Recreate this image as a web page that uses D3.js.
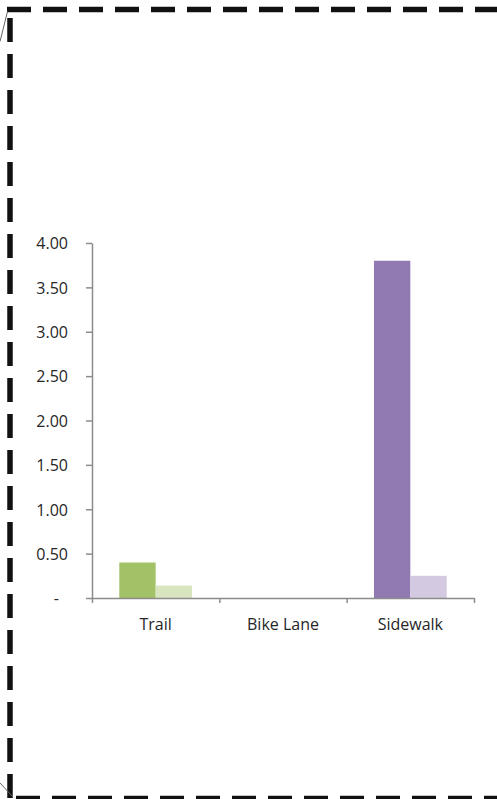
<!DOCTYPE html>
<html>
<head>
<meta charset="utf-8">
<script src="https://cdn.jsdelivr.net/npm/d3@7"></script>
<style>
  html, body { margin: 0; padding: 0; background: #fff; }
  svg { display: block; }
  text { font-family: "Open Sans", "Noto Sans", sans-serif; fill: #262626; }
</style>
</head>
<body>
<svg id="chart" width="497" height="799"></svg>
<script>
// ---- data ----
const categories = ["Trail", "Bike Lane", "Sidewalk"];
const seriesA = [0.40, 0.00, 3.80];
const seriesB = [0.14, 0.00, 0.25];
const yTickValues = [0, 0.5, 1, 1.5, 2, 2.5, 3, 3.5, 4];
const yTickLabels = ["-", "0.50", "1.00", "1.50", "2.00", "2.50", "3.00", "3.50", "4.00"];
const darkColors = ["#a3c166", "#4f81bd", "#917ab1"];
const lightColors = ["#d8e5bf", "#b9cde5", "#d3c9e1"];

const svg = d3.select("#chart");
const W = 497, H = 799;

// ---- dashed frame ----
const frame = svg.append("g");
const dash = "24,12";
frame.append("line").attr("x1", 7).attr("y1", 9.5).attr("x2", 510).attr("y2", 9.5)
  .attr("stroke", "#111").attr("stroke-width", 5.5).attr("stroke-dasharray", dash);
frame.append("line").attr("x1", 10).attr("y1", 18).attr("x2", 10).attr("y2", 810)
  .attr("stroke", "#111").attr("stroke-width", 5.5).attr("stroke-dasharray", dash);
frame.append("line").attr("x1", 16).attr("y1", 798.5).attr("x2", 510).attr("y2", 798.5)
  .attr("stroke", "#111").attr("stroke-width", 5.5).attr("stroke-dasharray", dash);
// small diagonal corner strokes
frame.append("line").attr("x1", 0).attr("y1", 41.5).attr("x2", 7.5).attr("y2", 11.5)
  .attr("stroke", "#666").attr("stroke-width", 1);
frame.append("line").attr("x1", 0).attr("y1", 783).attr("x2", 13).attr("y2", 797)
  .attr("stroke", "#666").attr("stroke-width", 1);

// ---- scales ----
const x0 = 92, x1 = 474, yTop = 243, yBot = 598;
const x = d3.scaleBand().domain(categories).range([x0, x1]).paddingInner(0).paddingOuter(0);
const xSub = d3.scaleBand().domain(["a", "b"]).range([0, x.bandwidth()])
  .paddingInner(0).paddingOuter(0.75);
const y = d3.scaleLinear().domain([0, 4]).range([yBot, yTop]);

// ---- bars ----
const bars = svg.append("g");
categories.forEach((c, i) => {
  bars.append("rect")
    .attr("x", x(c) + xSub("a")).attr("width", xSub.bandwidth())
    .attr("y", y(seriesA[i])).attr("height", y(0) - y(seriesA[i]))
    .attr("fill", darkColors[i]);
  bars.append("rect")
    .attr("x", x(c) + xSub("b")).attr("width", xSub.bandwidth())
    .attr("y", y(seriesB[i])).attr("height", y(0) - y(seriesB[i]))
    .attr("fill", lightColors[i]);
});

// ---- y axis ----
const yAxis = d3.axisLeft(y).tickValues(yTickValues)
  .tickFormat((d, i) => yTickLabels[i]).tickSize(6).tickSizeOuter(0).tickPadding(18);
const gy = svg.append("g").attr("transform", `translate(${x0},0)`).call(yAxis);
gy.select(".domain").attr("stroke", "#8c8c8c").attr("stroke-width", 1.5);
gy.selectAll(".tick line").attr("stroke", "#8c8c8c").attr("stroke-width", 1.5);
gy.selectAll(".tick text")
  .attr("font-size", "16px").attr("fill", "#262626")
  .attr("font-family", "'Open Sans', 'Noto Sans', sans-serif")
  .attr("dx", d => d === 0 ? -9 : 0)
  .attr("dy", "0.36em");

// ---- x axis ----
const xb = d3.scaleLinear().domain([0, categories.length]).range([x0, x1]);
const xAxis = d3.axisBottom(xb).tickValues(d3.range(categories.length + 1))
  .tickFormat("").tickSize(5).tickSizeOuter(0);
const gx = svg.append("g").attr("transform", `translate(0,${yBot})`).call(xAxis);
gx.select(".domain").attr("stroke", "#8c8c8c").attr("stroke-width", 1.5);
gx.selectAll(".tick line").attr("stroke", "#8c8c8c").attr("stroke-width", 1.5);

svg.append("g").selectAll("text").data(categories).join("text")
  .attr("x", d => x(d) + x.bandwidth() / 2)
  .attr("y", 630)
  .attr("text-anchor", "middle")
  .attr("font-size", "16px")
  .text(d => d);
</script>
</body>
</html>
